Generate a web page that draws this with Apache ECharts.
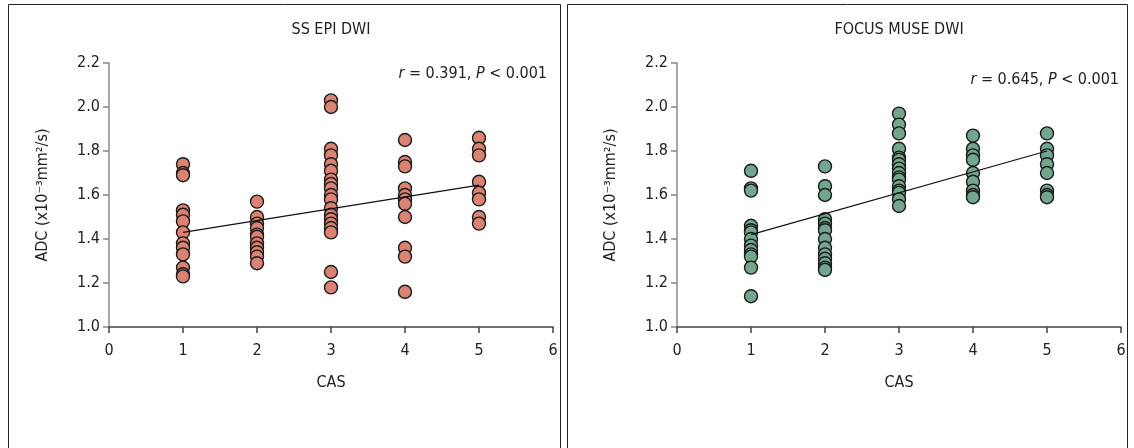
<!DOCTYPE html>
<html>
<head>
<meta charset="utf-8">
<script src="https://cdn.jsdelivr.net/npm/echarts@6/dist/echarts.min.js"></script>
<style>
  html, body { margin: 0; padding: 0; background: #fff; }
  #chart { width: 1134px; height: 448px; }
</style>
</head>
<body>
<div id="chart"></div>
<script>
// CAS levels on the x axis
var casLevels = [1, 2, 3, 4, 5];

// SS EPI DWI - ADC values per CAS level
var epiCas1 = [1.74, 1.70, 1.69, 1.53, 1.51, 1.48, 1.43, 1.38, 1.36, 1.33, 1.27, 1.24, 1.23];
var epiCas2 = [1.57, 1.50, 1.47, 1.45, 1.42, 1.41, 1.38, 1.36, 1.34, 1.32, 1.29];
var epiCas3 = [2.03, 2.00, 1.81, 1.78, 1.74, 1.71, 1.67, 1.65, 1.63, 1.60, 1.58, 1.54, 1.51, 1.49, 1.47, 1.45, 1.43, 1.25, 1.18];
var epiCas4 = [1.85, 1.75, 1.73, 1.63, 1.60, 1.58, 1.56, 1.50, 1.36, 1.32, 1.16];
var epiCas5 = [1.86, 1.81, 1.78, 1.66, 1.61, 1.58, 1.50, 1.47];
var epiFit = [[1, 1.43], [5, 1.645]];

// FOCUS MUSE DWI - ADC values per CAS level
var museCas1 = [1.71, 1.63, 1.62, 1.46, 1.44, 1.43, 1.40, 1.37, 1.35, 1.33, 1.32, 1.27, 1.14];
var museCas2 = [1.73, 1.64, 1.60, 1.49, 1.47, 1.45, 1.44, 1.40, 1.36, 1.33, 1.31, 1.29, 1.27, 1.26];
var museCas3 = [1.97, 1.92, 1.88, 1.81, 1.77, 1.76, 1.74, 1.72, 1.70, 1.68, 1.67, 1.64, 1.62, 1.61, 1.58, 1.55];
var museCas4 = [1.87, 1.81, 1.78, 1.76, 1.70, 1.66, 1.62, 1.60, 1.59];
var museCas5 = [1.88, 1.81, 1.78, 1.74, 1.70, 1.62, 1.60, 1.59];
var museFit = [[1, 1.42], [5, 1.80]];

var yTicks = ['1.0', '1.2', '1.4', '1.6', '1.8', '2.0', '2.2'];
var xTicks = ['0', '1', '2', '3', '4', '5', '6'];

var FONT = "'DejaVu Sans Condensed', 'DejaVu Sans', sans-serif";

function toPairs(groups) {
    var out = [];
    for (var i = 0; i < groups.length; i++) {
        for (var j = 0; j < groups[i].length; j++) {
            out.push([casLevels[i], groups[i][j]]);
        }
    }
    return out;
}

function makeX(idx) {
    return {
        gridIndex: idx, type: 'value', min: 0, max: 6, interval: 1,
        name: 'CAS', nameLocation: 'middle', nameGap: 48,
        nameTextStyle: { fontFamily: FONT, fontSize: 16, color: '#222' },
        axisLine: { lineStyle: { color: '#444', width: 1.5 } },
        axisTick: { show: true, inside: false, length: 6, lineStyle: { color: '#444', width: 1.5 } },
        axisLabel: { margin: 16, fontFamily: FONT, fontSize: 16, color: '#222',
            formatter: function (v) { return xTicks[v]; } },
        splitLine: { show: false }
    };
}

function makeY(idx) {
    return {
        gridIndex: idx, type: 'value', min: 1.0, max: 2.2, interval: 0.2,
        name: 'ADC (x10⁻³mm²/s)', nameLocation: 'middle', nameGap: 58, nameRotate: 90,
        nameTextStyle: { fontFamily: FONT, fontSize: 16, color: '#222' },
        axisLine: { show: true, lineStyle: { color: '#888', width: 1.5 } },
        axisTick: { show: true, inside: false, length: 6, lineStyle: { color: '#888', width: 1.5 } },
        axisLabel: { margin: 9, fontFamily: FONT, fontSize: 16, color: '#222',
            formatter: function (v) { return yTicks[Math.round((v - 1) / 0.2)]; } },
        splitLine: { show: false }
    };
}

function scatter(idx, data, color) {
    return {
        type: 'scatter', xAxisIndex: idx, yAxisIndex: idx, data: data,
        symbol: 'circle', symbolSize: 13,
        itemStyle: { color: color, borderColor: '#1a1a1a', borderWidth: 1.4, opacity: 1 },
        z: 3
    };
}

function fitLine(idx, data) {
    return {
        type: 'line', xAxisIndex: idx, yAxisIndex: idx, data: data,
        symbol: 'none', lineStyle: { color: '#111', width: 1.2 }, z: 4
    };
}

var chart = echarts.init(document.getElementById('chart'));
chart.setOption({
    backgroundColor: '#fff',
    animation: false,
    grid: [
        { left: 109, top: 63, width: 444, height: 264 },
        { left: 677, top: 63, width: 444, height: 264 }
    ],
    xAxis: [makeX(0), makeX(1)],
    yAxis: [makeY(0), makeY(1)],
    series: [
        scatter(0, toPairs([epiCas1, epiCas2, epiCas3, epiCas4, epiCas5]), '#db8372'),
        fitLine(0, epiFit),
        scatter(1, toPairs([museCas1, museCas2, museCas3, museCas4, museCas5]), '#72a68e'),
        fitLine(1, museFit)
    ],
    graphic: [
        { type: 'rect', shape: { x: 8.5, y: 4.5, width: 552, height: 460 },
          style: { fill: 'none', stroke: '#222', lineWidth: 1 } },
        { type: 'rect', shape: { x: 567.5, y: 4.5, width: 560, height: 460 },
          style: { fill: 'none', stroke: '#222', lineWidth: 1 } },
        { type: 'text', x: 331, y: 30,
          style: { text: 'SS EPI DWI', font: '16px ' + FONT, fill: '#222', align: 'center', verticalAlign: 'middle' } },
        { type: 'text', x: 899, y: 30,
          style: { text: 'FOCUS MUSE DWI', font: '16px ' + FONT, fill: '#222', align: 'center', verticalAlign: 'middle' } },
        { type: 'text', x: 547, y: 74,
          style: { text: '{i|r} = 0.391, {i|P} < 0.001', fontFamily: FONT, fontSize: 16, fill: '#222',
                   align: 'right', verticalAlign: 'middle',
                   rich: { i: { fontStyle: 'italic', fontFamily: FONT, fontSize: 16 } } } },
        { type: 'text', x: 1119, y: 80,
          style: { text: '{i|r} = 0.645, {i|P} < 0.001', fontFamily: FONT, fontSize: 16, fill: '#222',
                   align: 'right', verticalAlign: 'middle',
                   rich: { i: { fontStyle: 'italic', fontFamily: FONT, fontSize: 16 } } } }
    ]
});
</script>
</body>
</html>
